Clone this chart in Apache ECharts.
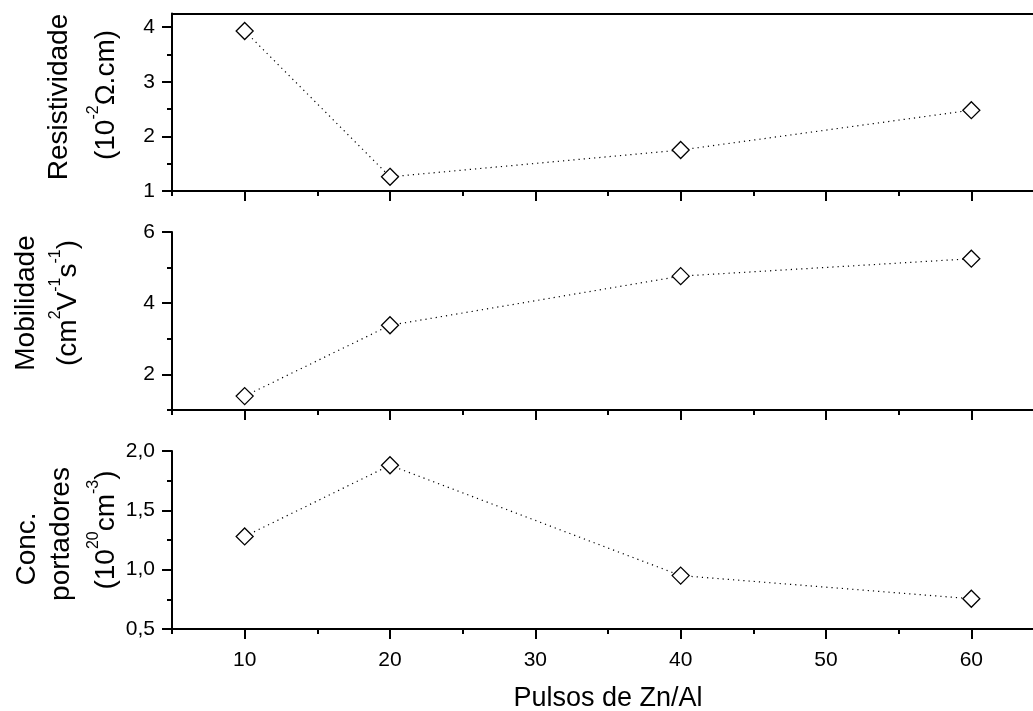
<!DOCTYPE html>
<html>
<head>
<meta charset="utf-8">
<script src="https://cdn.jsdelivr.net/npm/echarts@6/dist/echarts.min.js"></script>
<style>
html, body { margin: 0; padding: 0; background: #fff; }
#chart { width: 1033px; height: 711px; }
</style>
</head>
<body>
<div id="chart"></div>
<script>
! function() {
    'use strict'
    // dados
    var pulsos = [10, 20, 40, 60];
    var resistividade = [3.93, 1.26, 1.75, 2.48];
    var mobilidade = [1.39, 3.38, 4.76, 5.25];
    var concentracao = [1.28, 1.88, 0.95, 0.755];

    var xMajor = [10, 20, 30, 40, 50, 60];
    var xMinor = [5, 15, 25, 35, 45, 55, 65];
    var resMajor = [1, 2, 3, 4];
    var resMinor = [1.5, 2.5, 3.5];
    var mobMajor = [2, 4, 6];
    var mobMinor = [1, 3, 5];
    var concMajor = [0.5, 1.0, 1.5, 2.0];
    var concMinor = [0.75, 1.25, 1.75];

    var chart = echarts.init(document.getElementById("chart"));
    var FONT = '"Liberation Sans", Arial, sans-serif';
    var black = '#000';

    var grids = [
        { left: 172, right: -11, top: 13.5, height: 177.5, outerBoundsMode: 'none' },
        { left: 172, right: -11, top: 232, height: 178, outerBoundsMode: 'none' },
        { left: 172, right: -11, top: 451, height: 178, outerBoundsMode: 'none' }
    ];

    var xAxes = [];
    var yAxes = [];

    function addX(gi, showLabels) {
        var main = {
            type: 'value', gridIndex: gi, min: 5, max: 65, position: 'bottom',
            axisLine: { show: true, lineStyle: { color: black, width: 2 } },
            axisTick: { show: true, inside: false, length: 10, customValues: xMajor, lineStyle: { color: black, width: 2 } },
            axisLabel: { show: showLabels, customValues: xMajor, margin: 21, color: black, fontSize: 21, fontFamily: FONT },
            splitLine: { show: false }
        };
        if (showLabels) {
            main.name = 'Pulsos de Zn/Al';
            main.nameLocation = 'middle';
            main.nameGap = 56;
            main.nameTextStyle = { color: black, fontSize: 27, fontFamily: FONT };
        }
        var idx = xAxes.length;
        xAxes.push(main);
        xAxes.push({
            type: 'value', gridIndex: gi, min: 5, max: 65, position: 'bottom',
            axisLine: { show: false },
            axisTick: { show: true, length: 5, customValues: xMinor, lineStyle: { color: black, width: 2 } },
            axisLabel: { show: false },
            splitLine: { show: false }
        });
        return idx;
    }

    function addY(gi, min, max, major, minor, fmt) {
        var idx = yAxes.length;
        yAxes.push({
            type: 'value', gridIndex: gi, min: min, max: max, position: 'left',
            axisLine: { show: true, lineStyle: { color: black, width: 2 } },
            axisTick: { show: true, length: 10, customValues: major, lineStyle: { color: black, width: 2 } },
            axisLabel: { show: true, customValues: major, margin: 17, color: black, fontSize: 21, fontFamily: FONT, formatter: fmt },
            splitLine: { show: false }
        });
        yAxes.push({
            type: 'value', gridIndex: gi, min: min, max: max, position: 'left',
            axisLine: { show: false },
            axisTick: { show: true, length: 5, customValues: minor, lineStyle: { color: black, width: 2 } },
            axisLabel: { show: false },
            splitLine: { show: false }
        });
        return idx;
    }

    var x0 = addX(0, false);
    // linha de cima do primeiro painel
    xAxes.push({
        type: 'value', gridIndex: 0, min: 5, max: 65, position: 'top',
        axisLine: { show: true, lineStyle: { color: black, width: 2 } },
        axisTick: { show: false }, axisLabel: { show: false }, splitLine: { show: false }
    });
    var x1 = addX(1, false);
    var x2 = addX(2, true);

    var y0 = addY(0, 1, 4.25, resMajor, resMinor, function(v) { return String(v); });
    var y1 = addY(1, 1, 6, mobMajor, mobMinor, function(v) { return String(v); });
    var y2 = addY(2, 0.5, 2.0, concMajor, concMinor, function(v) { return v.toFixed(1).replace('.', ','); });

    function pares(vals) {
        return pulsos.map(function(p, i) { return [p, vals[i]]; });
    }

    function serie(xi, yi, vals) {
        return {
            type: 'line', xAxisIndex: xi, yAxisIndex: yi,
            data: pares(vals),
            symbol: 'diamond', symbolSize: 17,
            itemStyle: { color: '#fff', borderColor: '#000', borderWidth: 1.3 },
            lineStyle: { color: '#000', width: 1.2, type: [1.2, 4] },
            animation: false
        };
    }

    var rich = {
        n: { fontSize: 28, fontFamily: FONT, color: black, lineHeight: 28 },
        s: { fontSize: 16, fontFamily: FONT, color: black, lineHeight: 28, padding: [0, 0, 24, 0] }
    };

    function nome(txt, x, y) {
        return {
            type: 'text', x: x, y: y, rotation: Math.PI / 2,
            style: { text: txt, rich: rich, align: 'center', verticalAlign: 'middle' }
        };
    }

    var option = {
        backgroundColor: '#fff',
        animation: false,
        grid: grids,
        xAxis: xAxes,
        yAxis: yAxes,
        series: [
            serie(x0, y0, resistividade),
            serie(x1, y1, mobilidade),
            serie(x2, y2, concentracao)
        ],
        graphic: [
            nome('{n|Resistividade}', 59, 97),
            nome('{n|(10}{s|-2}{n|Ω.cm)}', 106, 95),
            nome('{n|Mobilidade}', 26, 303),
            nome('{n|(cm}{s|2}{n|V}{s|-1}{n|s}{s|-1}{n|)}', 68, 303),
            nome('{n|Conc.}', 27, 549),
            nome('{n|portadores}', 61, 534),
            nome('{n|(10}{s|20}{n|cm}{s|-3}{n|)}', 106, 530)
        ]
    };
    chart.setOption(option);
}()
</script>
</body>
</html>
